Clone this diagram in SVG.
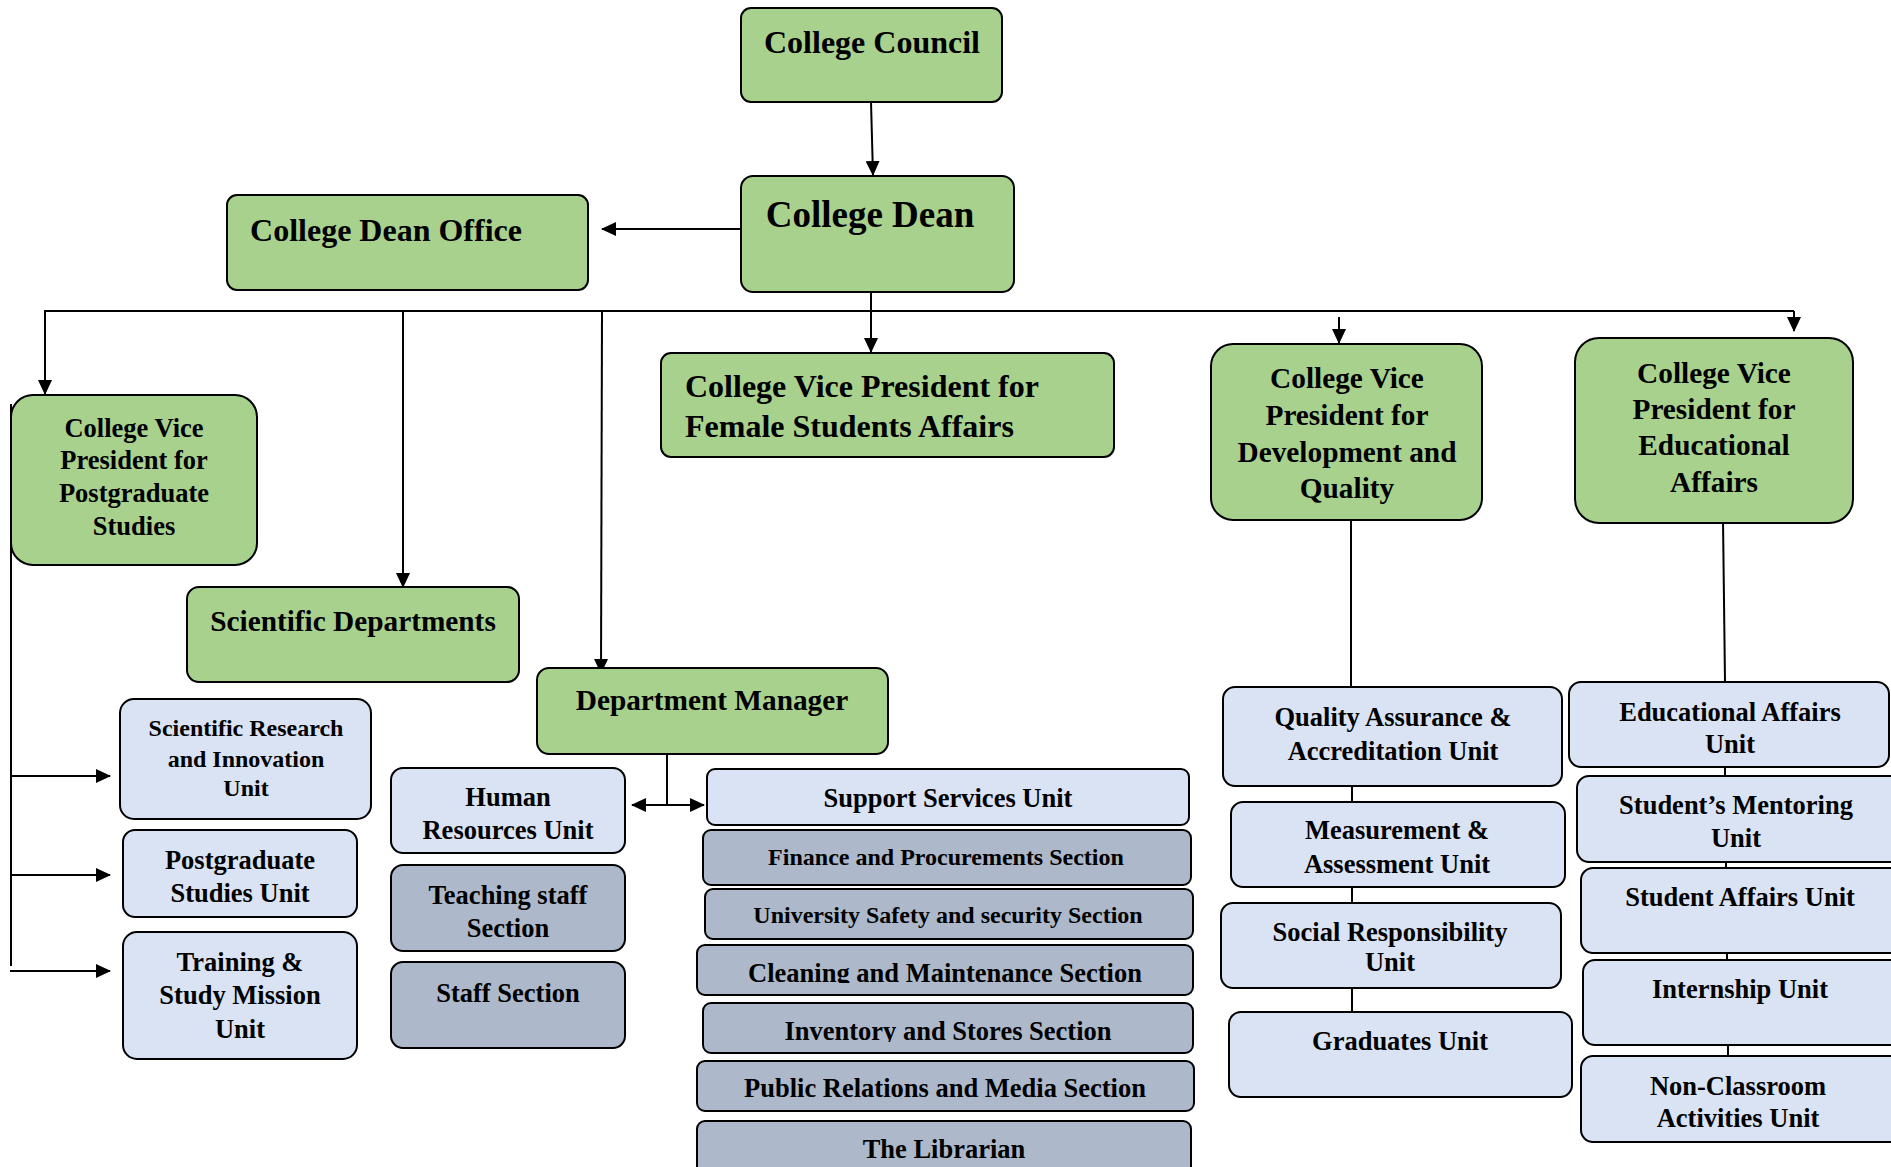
<svg xmlns="http://www.w3.org/2000/svg" width="1891" height="1167" viewBox="0 0 1891 1167">
<style>
text{font-family:"Liberation Serif","Times New Roman",serif;font-weight:bold;fill:#000;text-anchor:middle}
.g rect{fill:#A9D18E;stroke:#000;stroke-width:2}
.b rect{fill:#DAE3F3;stroke:#000;stroke-width:2}
.s rect{fill:#ADB9CA;stroke:#000;stroke-width:2}
.ln{stroke:#000;stroke-width:2;fill:none}
.f24{font-size:24px}.f26{font-size:26.5px}.f29{font-size:29.3px}.f32{font-size:32px}.f37{font-size:37px}
</style>
<defs>
<marker id="ah" markerUnits="userSpaceOnUse" markerWidth="15" markerHeight="14" refX="14" refY="7" orient="auto-start-reverse"><path d="M0,0 L15,7 L0,14 Z" fill="#000"/></marker>
<clipPath id="clipClean"><rect x="690" y="940" width="510" height="43"/></clipPath>
<clipPath id="clipInv"><rect x="690" y="998" width="510" height="44"/></clipPath>
</defs>
<rect width="1891" height="1167" fill="#fff"/>
<g id="connectors">
<line class="ln" x1="871" y1="102" x2="873" y2="175" marker-end="url(#ah)"/>
<line class="ln" x1="740" y1="229" x2="602" y2="229" marker-end="url(#ah)" stroke-width="2.5"/>
<line class="ln" x1="44" y1="311" x2="1794" y2="311" stroke-width="2.5"/>
<line class="ln" x1="871" y1="292" x2="871" y2="352" marker-end="url(#ah)"/>
<line class="ln" x1="45" y1="311" x2="45" y2="394" marker-end="url(#ah)"/>
<line class="ln" x1="403" y1="311" x2="403" y2="587" marker-end="url(#ah)"/>
<line class="ln" x1="602" y1="311" x2="601" y2="673" marker-end="url(#ah)"/>
<line class="ln" x1="1339" y1="317" x2="1339" y2="343" marker-end="url(#ah)"/>
<line class="ln" x1="1794" y1="311" x2="1794" y2="331" marker-end="url(#ah)"/>
<line class="ln" x1="11" y1="404" x2="11" y2="966"/>
<line class="ln" x1="11" y1="776" x2="110" y2="776" marker-end="url(#ah)"/>
<line class="ln" x1="11" y1="875" x2="110" y2="875" marker-end="url(#ah)"/>
<line class="ln" x1="10" y1="971" x2="110" y2="971" marker-end="url(#ah)"/>
<line class="ln" x1="667" y1="755" x2="667" y2="805"/>
<line class="ln" x1="632" y1="805" x2="704" y2="805" marker-start="url(#ah)" marker-end="url(#ah)"/>
<line class="ln" x1="1351" y1="520" x2="1351" y2="687" stroke-width="1.5"/>
<line class="ln" x1="1352" y1="786" x2="1352" y2="802" stroke-width="1.5"/>
<line class="ln" x1="1352" y1="887" x2="1352" y2="903" stroke-width="1.5"/>
<line class="ln" x1="1352" y1="988" x2="1352" y2="1012" stroke-width="1.5"/>
<line class="ln" x1="1723" y1="520" x2="1725" y2="682" stroke-width="1.5"/>
<line class="ln" x1="1725" y1="767" x2="1725" y2="776" stroke-width="1.5"/>
<line class="ln" x1="1726" y1="862" x2="1726" y2="868" stroke-width="1.5"/>
<line class="ln" x1="1727" y1="953" x2="1727" y2="960" stroke-width="1.5"/>
<line class="ln" x1="1728" y1="1045" x2="1728" y2="1056" stroke-width="1.5"/>
</g>
<g id="council" class="g"><rect x="741" y="8" width="261" height="94" rx="10"/><text class="f32" x="872" y="53">College Council</text></g>
<g id="dean" class="g"><rect x="741" y="176" width="273" height="116" rx="12"/><text class="f37" x="870" y="227">College Dean</text></g>
<g id="dean-office" class="g"><rect x="227" y="195" width="361" height="95" rx="10"/><text class="f32" x="386" y="241">College Dean Office</text></g>
<g id="vp-female" class="g"><rect x="661" y="353" width="453" height="104" rx="10"/><text class="f32" x="685" y="397" style="text-anchor:start">College Vice President for</text><text class="f32" x="685" y="437" style="text-anchor:start">Female Students Affairs</text></g>
<g id="vp-postgrad" class="g"><rect x="11" y="395" width="246" height="170" rx="22"/><text class="f26" x="134" y="437">College Vice</text><text class="f26" x="134" y="469">President for</text><text class="f26" x="134" y="502">Postgraduate</text><text class="f26" x="134" y="535">Studies</text></g>
<g id="sci-depts" class="g"><rect x="187" y="587" width="332" height="95" rx="12"/><text class="f29" x="353" y="631">Scientific Departments</text></g>
<g id="dept-manager" class="g"><rect x="537" y="668" width="351" height="86" rx="12"/><text class="f29" x="712" y="710">Department Manager</text></g>
<g id="vp-dev" class="g"><rect x="1211" y="344" width="271" height="176" rx="22"/><text class="f29" x="1347" y="388">College Vice</text><text class="f29" x="1347" y="425">President for</text><text class="f29" x="1347" y="462">Development and</text><text class="f29" x="1347" y="498">Quality</text></g>
<g id="vp-edu" class="g"><rect x="1575" y="338" width="278" height="185" rx="24"/><text class="f29" x="1714" y="383">College Vice</text><text class="f29" x="1714" y="419">President for</text><text class="f29" x="1714" y="455">Educational</text><text class="f29" x="1714" y="492">Affairs</text></g>
<g id="sci-research" class="b"><rect x="120" y="699" width="251" height="120" rx="14"/><text class="f24" x="246" y="736">Scientific Research</text><text class="f24" x="246" y="767">and Innovation</text><text class="f24" x="246" y="796">Unit</text></g>
<g id="pg-unit" class="b"><rect x="123" y="830" width="234" height="87" rx="12"/><text class="f26" x="240" y="869">Postgraduate</text><text class="f26" x="240" y="902">Studies Unit</text></g>
<g id="training" class="b"><rect x="123" y="932" width="234" height="127" rx="14"/><text class="f26" x="240" y="971">Training &amp;</text><text class="f26" x="240" y="1004">Study Mission</text><text class="f26" x="240" y="1038">Unit</text></g>
<g id="hr" class="b"><rect x="391" y="768" width="234" height="85" rx="12"/><text class="f26" x="508" y="806">Human</text><text class="f26" x="508" y="839">Resources Unit</text></g>
<g id="teaching" class="s"><rect x="391" y="865" width="234" height="86" rx="12"/><text class="f26" x="508" y="904">Teaching staff</text><text class="f26" x="508" y="937">Section</text></g>
<g id="staff" class="s"><rect x="391" y="962" width="234" height="86" rx="12"/><text class="f26" x="508" y="1002">Staff Section</text></g>
<g id="support" class="b"><rect x="707" y="769" width="482" height="56" rx="8"/><text class="f26" x="948" y="807">Support Services Unit</text></g>
<g id="finance" class="s"><rect x="703" y="830" width="488" height="55" rx="8"/><text class="f24" x="946" y="865">Finance and Procurements Section</text></g>
<g id="safety" class="s"><rect x="705" y="889" width="488" height="50" rx="8"/><text class="f24" x="948" y="923">University Safety and security Section</text></g>
<g id="cleaning" class="s"><rect x="697" y="945" width="496" height="50" rx="8"/><text class="f26" x="945" y="982" clip-path="url(#clipClean)">Cleaning and Maintenance Section</text></g>
<g id="inventory" class="s"><rect x="703" y="1003" width="490" height="50" rx="8"/><text class="f26" x="948" y="1040" clip-path="url(#clipInv)">Inventory and Stores Section</text></g>
<g id="public-relations" class="s"><rect x="697" y="1061" width="497" height="50" rx="8"/><text class="f26" x="945" y="1097">Public Relations and Media Section</text></g>
<g id="librarian" class="s"><rect x="697" y="1121" width="494" height="80" rx="8"/><text class="f26" x="944" y="1158">The Librarian</text></g>
<g id="qa" class="b"><rect x="1223" y="687" width="339" height="99" rx="12"/><text class="f26" x="1393" y="726">Quality Assurance &amp;</text><text class="f26" x="1393" y="760">Accreditation Unit</text></g>
<g id="measurement" class="b"><rect x="1231" y="802" width="334" height="85" rx="12"/><text class="f26" x="1397" y="839">Measurement &amp;</text><text class="f26" x="1397" y="873">Assessment Unit</text></g>
<g id="social" class="b"><rect x="1221" y="903" width="340" height="85" rx="12"/><text class="f26" x="1390" y="941">Social Responsibility</text><text class="f26" x="1390" y="971">Unit</text></g>
<g id="graduates" class="b"><rect x="1229" y="1012" width="343" height="85" rx="12"/><text class="f26" x="1400" y="1050">Graduates Unit</text></g>
<g id="edu-unit" class="b"><rect x="1569" y="682" width="320" height="85" rx="12"/><text class="f26" x="1730" y="721">Educational Affairs</text><text class="f26" x="1730" y="753">Unit</text></g>
<g id="mentoring" class="b"><rect x="1577" y="776" width="330" height="86" rx="12"/><text class="f26" x="1736" y="814">Student’s Mentoring</text><text class="f26" x="1736" y="847">Unit</text></g>
<g id="student-affairs" class="b"><rect x="1581" y="868" width="330" height="85" rx="12"/><text class="f26" x="1740" y="906">Student Affairs Unit</text></g>
<g id="internship" class="b"><rect x="1583" y="960" width="330" height="85" rx="12"/><text class="f26" x="1740" y="998">Internship Unit</text></g>
<g id="non-classroom" class="b"><rect x="1581" y="1056" width="330" height="86" rx="12"/><text class="f26" x="1738" y="1095">Non-Classroom</text><text class="f26" x="1738" y="1127">Activities Unit</text></g>
</svg>
